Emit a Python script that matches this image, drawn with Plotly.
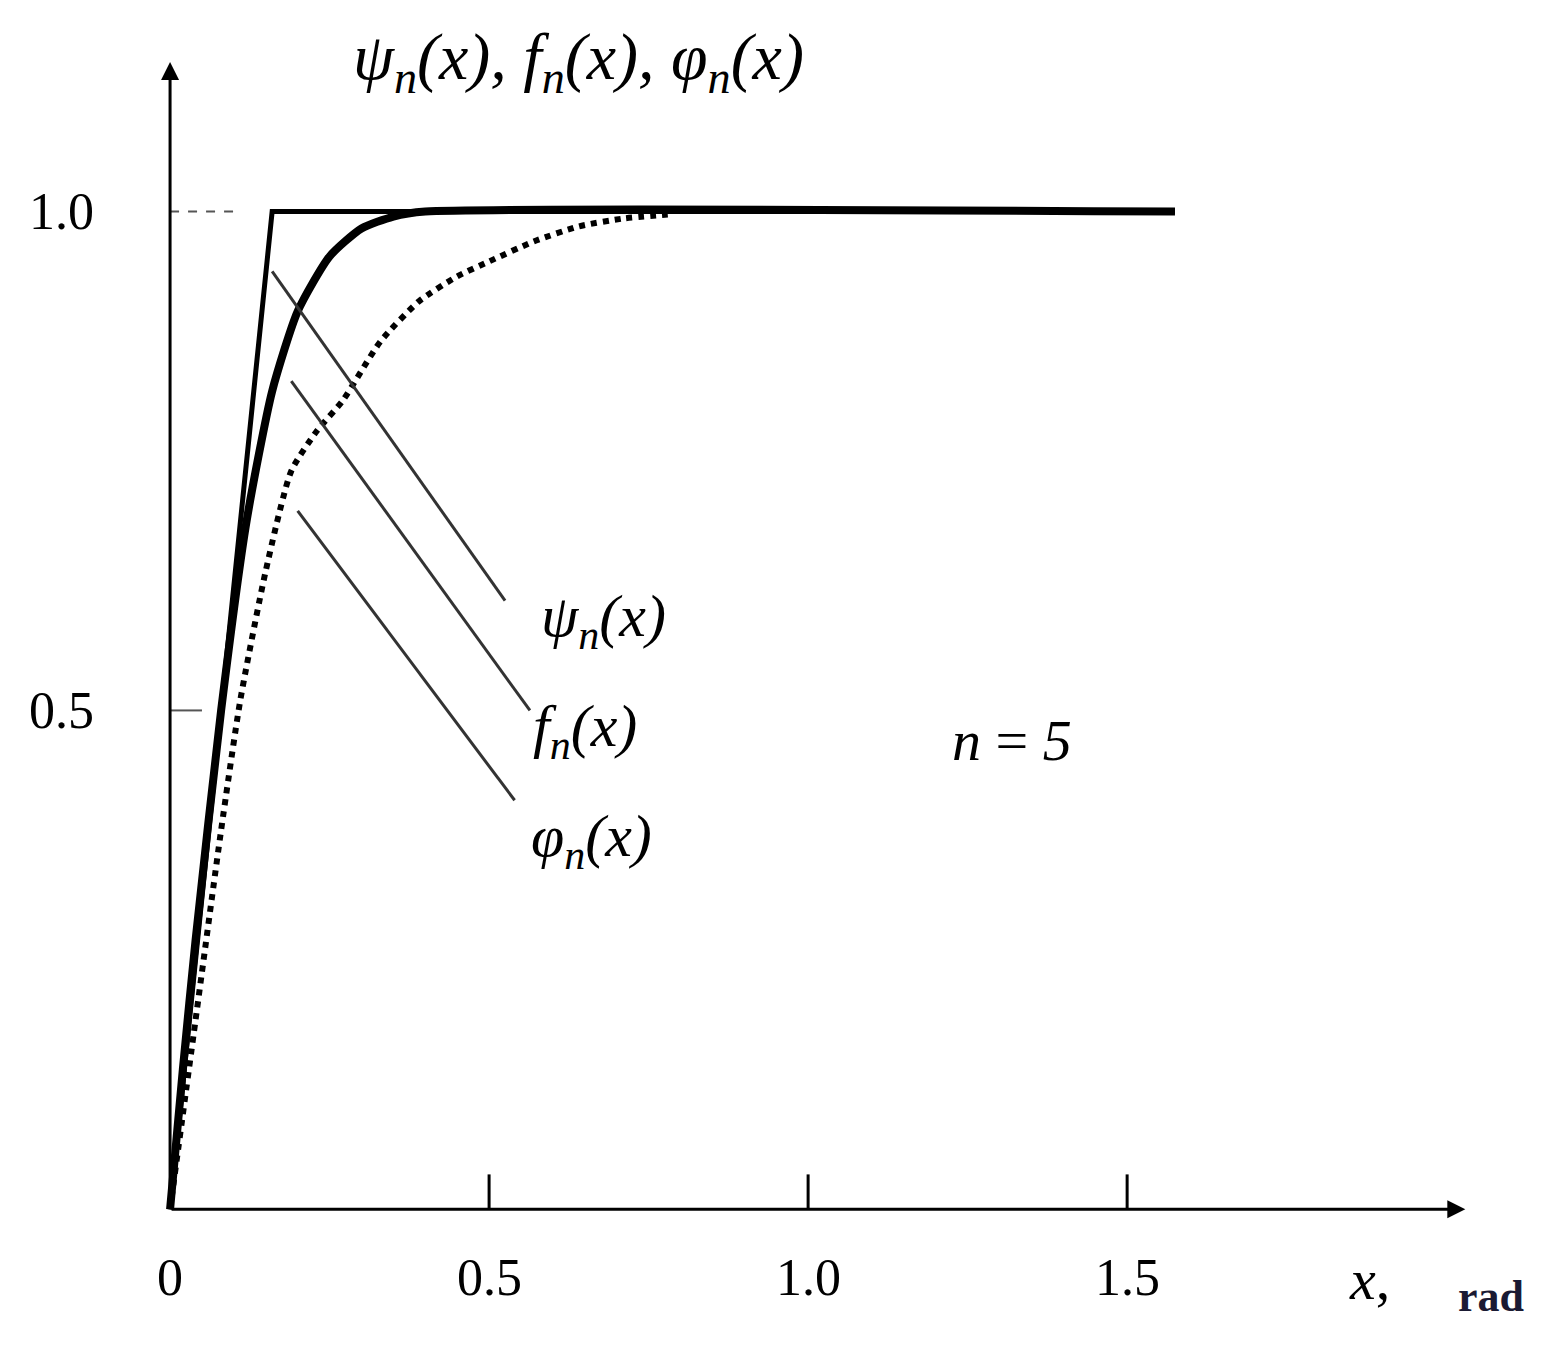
import plotly.graph_objects as go

psi_x = [0, 0.16, 1.575]
psi_y = [0, 1.0, 1.0]
f_x = [0, 0.02, 0.04, 0.08, 0.12, 0.16, 0.20, 0.25, 0.30, 0.35, 0.40, 1.575]
f_y = [0, 0.14, 0.27, 0.50, 0.69, 0.82, 0.90, 0.955, 0.983, 0.995, 1.0, 1.0]
phi_x = [0, 0.04, 0.08, 0.11, 0.15, 0.19, 0.23, 0.27, 0.33, 0.39, 0.45, 0.50, 0.57, 0.64, 0.71, 0.78]
phi_y = [0, 0.19, 0.38, 0.51, 0.64, 0.74, 0.78, 0.81, 0.87, 0.91, 0.935, 0.95, 0.97, 0.985, 0.993, 0.997]
x_ticks = [0.5, 1.0, 1.5]
x_tick_labels = ["0.5", "1.0", "1.5"]
y_ticks = [0.5, 1.0]
y_tick_labels = ["0.5", "1.0"]
leader_start = [(0.16, 0.94), (0.19, 0.83), (0.20, 0.70)]
leader_end = [(0.525, 0.61), (0.564, 0.50), (0.54, 0.41)]
labels = ["ψ<sub>n</sub>(x)", "f<sub>n</sub>(x)", "φ<sub>n</sub>(x)"]
label_pos = [(0.68, 0.59), (0.65, 0.48), (0.66, 0.37)]

fig = go.Figure()
fig.add_trace(go.Scatter(x=psi_x, y=psi_y, mode="lines", line=dict(color="black", width=5)))
fig.add_trace(go.Scatter(x=f_x, y=f_y, mode="lines", line=dict(color="black", width=8, shape="spline", smoothing=0.6)))
fig.add_trace(go.Scatter(x=phi_x, y=phi_y, mode="lines", line=dict(color="black", width=6, dash="dot", shape="spline", smoothing=0.6)))

serif = "Liberation Serif"
ann = []
shapes = []
ann.append(dict(x=2.03, y=0, ax=0, ay=0, xref="x", yref="y", axref="x", ayref="y", showarrow=True,
                arrowhead=2, arrowsize=1.2, arrowwidth=3, arrowcolor="black", text=""))
ann.append(dict(x=0, y=1.15, ax=0, ay=0, xref="x", yref="y", axref="x", ayref="y", showarrow=True,
                arrowhead=2, arrowsize=1.2, arrowwidth=3, arrowcolor="black", text=""))
for t, l in zip(x_ticks, x_tick_labels):
    shapes.append(dict(type="line", x0=t, x1=t, y0=0, y1=0.035, line=dict(color="black", width=3)))
    ann.append(dict(x=t, y=-0.068, text=l, showarrow=False, font=dict(family=serif, size=52, color="black")))
ann.append(dict(x=0, y=-0.068, text="0", showarrow=False, font=dict(family=serif, size=52, color="black")))
for t, l in zip(y_ticks, y_tick_labels):
    shapes.append(dict(type="line", x0=0, x1=0.05 if t == 0.5 else 0.1, y0=t, y1=t,
                       line=dict(color="#555", width=2, dash="dash" if t == 1.0 else "solid")))
    ann.append(dict(x=-0.17, y=t, text=l, showarrow=False, font=dict(family=serif, size=52, color="black")))
for (x0, y0), (x1, y1) in zip(leader_start, leader_end):
    shapes.append(dict(type="line", x0=x0, y0=y0, x1=x1, y1=y1, line=dict(color="#333", width=3)))
for lab, (x, y) in zip(labels, label_pos):
    ann.append(dict(x=x, y=y, text="<i>" + lab + "</i>", showarrow=False, font=dict(family=serif, size=60, color="black")))
ann.append(dict(x=1.32, y=0.47, text="<i>n</i> = <i>5</i>", showarrow=False, font=dict(family=serif, size=58, color="black")))
ann.append(dict(x=0.64, y=1.15, text="<i>ψ<sub>n</sub>(x), f<sub>n</sub>(x), φ<sub>n</sub>(x)</i>", showarrow=False,
                font=dict(family=serif, size=66, color="black")))
ann.append(dict(x=1.88, y=-0.07, text="<i>x</i>,", showarrow=False, font=dict(family=serif, size=58, color="black")))
ann.append(dict(x=2.07, y=-0.087, text="<b>rad</b>", showarrow=False, font=dict(family=serif, size=44, color="#1a1a33")))

fig.update_layout(width=1553, height=1346, margin=dict(l=0, r=0, t=0, b=0), showlegend=False,
                  plot_bgcolor="white", paper_bgcolor="white", annotations=ann, shapes=shapes,
                  xaxis=dict(range=[-0.254, 2.18], visible=False),
                  yaxis=dict(range=[-0.145, 1.204], visible=False))
fig.write_html("out.html")
